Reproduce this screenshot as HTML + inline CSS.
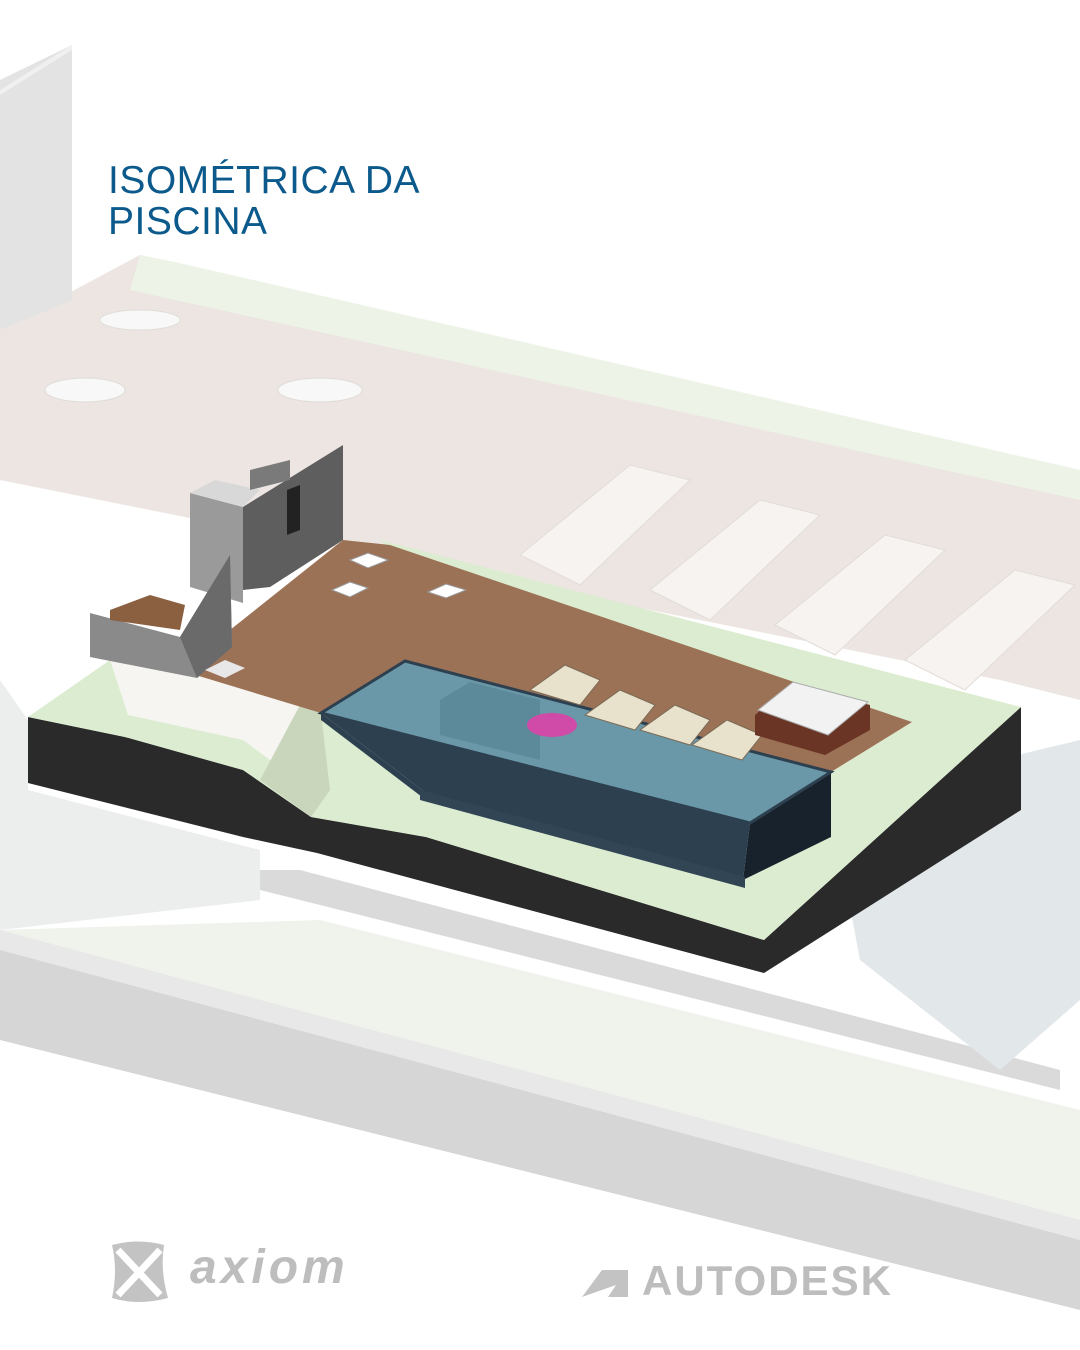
<!DOCTYPE html>
<html><head><meta charset="utf-8"><style>
html,body{margin:0;padding:0;background:#fff}
.wrap{position:relative;width:1080px;height:1350px;overflow:hidden;background:#fff}
svg{position:absolute;left:0;top:0}
.t{position:absolute;left:108px;top:160px;font-family:"Liberation Sans",sans-serif;font-size:39px;line-height:41px;color:#0c5a8c;letter-spacing:0.5px}
.ax{position:absolute;left:190px;top:1240px;font-family:"Liberation Sans",sans-serif;font-style:italic;font-weight:bold;font-size:48px;color:#bdbdbd;letter-spacing:4px}
.ad{position:absolute;left:642px;top:1257px;font-family:"Liberation Sans",sans-serif;font-weight:bold;font-size:42px;color:#bdbdbd;letter-spacing:2px}
</style></head><body><div class="wrap">
<svg width="1080" height="1350" viewBox="0 0 1080 1350">
<polygon points="0,330 140,255 1080,470 1080,700 1000,680 0,480" fill="#ece5e1"/>
<polygon points="0,80 72,45 72,300 0,330" fill="#e3e3e3"/>
<polygon points="0,90 72,45 72,50 0,95" fill="#f0f0f0"/>
<polygon points="140,255 175,262 1080,470 1080,500 130,290" fill="#edf4e7"/>
<polygon points="0,940 30,930 1080,1230 1080,1310 0,1040" fill="#d6d6d6"/>
<polygon points="0,930 320,920 1080,1110 1080,1230 0,935" fill="#eff3ec"/>
<polygon points="0,680 28,720 28,790 260,850 260,900 0,930" fill="#eceeee"/>
<polygon points="260,870 300,870 1060,1070 1060,1090 260,890" fill="#dadada"/>
<polygon points="830,800 1080,740 1080,1000 1000,1070 860,960" fill="#e2e7ea"/>
<polygon points="0,930 1080,1220 1080,1240 0,950" fill="#e8e8e8"/>
<g fill="#f6f3f1" stroke="#e2dcd8">
<polygon points="520,555 630,465 690,480 580,585"/>
<polygon points="650,590 760,500 820,515 710,620"/>
<polygon points="775,625 885,535 945,550 835,655"/>
<polygon points="905,660 1015,570 1075,585 965,690"/>
</g>
<g fill="#f8f8f8" stroke="#e0dcd8">
<ellipse cx="140" cy="320" rx="40" ry="10"/><ellipse cx="85" cy="390" rx="40" ry="12"/><ellipse cx="320" cy="390" rx="42" ry="12"/>
</g>
<polygon points="28,717 28,783 243,837 317,853 764,973 1021,810 1021,707 764,940 426,837 311,817 243,770 125,737" fill="#2a2a2a"/>
<polygon points="28,717 110,660 189,673 321,713 426,793 743,880 831,837 831,772 912,722 900,715 1021,707 764,940 426,837 311,817 243,770 125,737" fill="#dcecd0"/>
<polygon points="110,660 189,673 321,713 311,770 270,760 243,740 128,715" fill="#f6f5f2"/>
<polygon points="300,705 321,713 330,790 311,817 260,780" fill="#c9d6bc"/>
<polygon points="380,540 1021,707 912,722 390,550" fill="#dcecd0"/>
<polygon points="189,673 230,630 343,540 390,545 912,722 831,772 405,661 321,713" fill="#9c7257"/>
<polygon points="321,713 426,793 743,880 750,823" fill="#2d4050"/>
<polygon points="321,713 321,720 426,800 426,793" fill="#2d4050"/>
<polygon points="750,823 831,772 831,837 743,880" fill="#18222c"/>
<polygon points="321,713 405,661 831,772 750,823" fill="#6a98a8" stroke="#2d4050" stroke-width="3"/>
<polygon points="420,790 745,877 745,888 420,800" fill="#324555"/>
<polygon points="440,700 470,682 540,700 540,760 440,735" fill="#5d8a9a"/>
<ellipse cx="552" cy="725" rx="25" ry="12" fill="#d04aa8"/>
<polygon points="190,493 243,507 243,603 190,587" fill="#9a9a9a"/>
<polygon points="190,493 215,480 260,490 243,507" fill="#d8d8d8"/>
<polygon points="243,507 343,445 343,540 270,587 243,590" fill="#5e5e5e"/>
<polygon points="250,470 290,460 290,480 250,490" fill="#7a7a7a"/>
<polygon points="287,490 300,485 300,530 287,535" fill="#222"/>
<polygon points="90,613 180,637 230,555 232,647 197,678 90,657" fill="#8a8a8a"/>
<polygon points="180,637 230,555 232,647 197,678" fill="#6a6a6a"/>
<polygon points="110,610 150,595 185,605 180,630 110,620" fill="#8a6040"/>
<polygon points="205,670 225,660 245,668 225,678" fill="#e8e8e8"/>
<g fill="#fff" stroke="#999">
<polygon points="332,590 350,582 368,588 350,597"/><polygon points="350,560 368,553 388,560 368,568"/><polygon points="428,592 446,584 466,590 446,598"/>
</g>
<g fill="#e8e1cc" stroke="#7a6a55">
<polygon points="530,690 565,665 600,680 580,705"/><polygon points="585,715 620,690 655,705 635,730"/>
<polygon points="640,730 675,705 710,720 690,745"/><polygon points="692,745 727,720 762,735 742,760"/>
</g>
<polygon points="755,715 790,685 870,705 870,730 825,755 755,735" fill="#6a3524"/>
<polygon points="758,710 793,682 868,702 828,735" fill="#f2f2f2" stroke="#aaa"/>
<g fill="#c3c3c3"><path d="M112,1245 Q138,1238 164,1245 Q160,1270 168,1298 Q138,1306 112,1298 Q118,1270 112,1245Z"/></g>
<path d="M118,1250 L160,1295 M160,1250 L118,1295" stroke="#fff" stroke-width="7"/>
<polygon points="582,1297 602,1270 628,1270 628,1297 608,1297 616,1285" fill="#c3c3c3"/>
</svg>
<div class="t">ISOMÉTRICA DA<br>PISCINA</div>
<div class="ax">axiom</div>
<div class="ad">AUTODESK</div>
</div></body></html>
